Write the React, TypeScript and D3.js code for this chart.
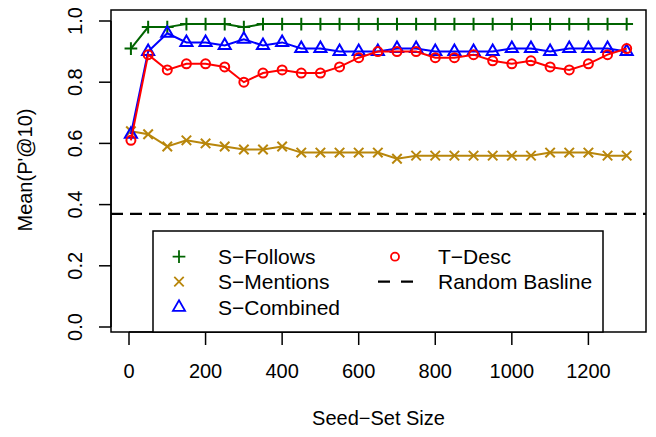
import React from "react";
import * as d3 from "d3";

const seedSizes = [5, 50, 100, 150, 200, 250, 300, 350, 400, 450, 500, 550, 600, 650, 700, 750, 800, 850, 900, 950, 1000, 1050, 1100, 1150, 1200, 1250, 1300];
const sFollows = [0.91, 0.98, 0.98, 0.99, 0.99, 0.99, 0.98, 0.99, 0.99, 0.99, 0.99, 0.99, 0.99, 0.99, 0.99, 0.99, 0.99, 0.99, 0.99, 0.99, 0.99, 0.99, 0.99, 0.99, 0.99, 0.99, 0.99];
const sMentions = [0.64, 0.63, 0.59, 0.61, 0.60, 0.59, 0.58, 0.58, 0.59, 0.57, 0.57, 0.57, 0.57, 0.57, 0.55, 0.56, 0.56, 0.56, 0.56, 0.56, 0.56, 0.56, 0.57, 0.57, 0.57, 0.56, 0.56];
const sCombined = [0.63, 0.90, 0.96, 0.93, 0.93, 0.92, 0.94, 0.92, 0.93, 0.91, 0.91, 0.90, 0.90, 0.90, 0.91, 0.91, 0.90, 0.90, 0.90, 0.90, 0.91, 0.91, 0.90, 0.91, 0.91, 0.91, 0.90];
const tDesc = [0.61, 0.89, 0.84, 0.86, 0.86, 0.85, 0.80, 0.83, 0.84, 0.83, 0.83, 0.85, 0.88, 0.90, 0.90, 0.90, 0.88, 0.88, 0.89, 0.87, 0.86, 0.87, 0.85, 0.84, 0.86, 0.89, 0.91];
const randomBaseline = 0.37;

const xTicks = [0, 200, 400, 600, 800, 1000, 1200];
const yTicks = [0, 0.2, 0.4, 0.6, 0.8, 1.0];

const seriesNames = ["S\u2212Follows", "S\u2212Mentions", "S\u2212Combined", "T\u2212Desc"];
const baselineName = "Random Basline";
const xTitle = "Seed\u2212Set Size";
const yTitle = "Mean(P'@10)";

const FONT = "'Liberation Sans', Arial, Helvetica, sans-serif";

type Shape = "plus" | "cross" | "triangle" | "circle";

function Marker({ shape, x, y, color, s = 4.5, sw = 2 }: { shape: Shape; x: number; y: number; color: string; s?: number; sw?: number }) {
  if (shape === "plus") {
    const h = s * 1.414;
    return <path d={`M${x - h},${y}H${x + h}M${x},${y - h}V${y + h}`} stroke={color} strokeWidth={sw} fill="none" />;
  }
  if (shape === "cross") {
    const h = s * 1.05;
    return <path d={`M${x - h},${y - h}L${x + h},${y + h}M${x - h},${y + h}L${x + h},${y - h}`} stroke={color} strokeWidth={sw} fill="none" />;
  }
  if (shape === "triangle") {
    const r = 1.5551 * s;
    const xc = 1.3468 * s;
    const yc = 0.7776 * s;
    return <path d={`M${x},${y - r}L${x + xc},${y + yc}L${x - xc},${y + yc}Z`} stroke={color} strokeWidth={sw} fill="none" />;
  }
  return <circle cx={x} cy={y} r={s} stroke={color} strokeWidth={sw} fill="none" />;
}

export default function App() {
  const x = d3.scaleLinear().domain([0, 1200]).range([129, 588.4]);
  const y = d3.scaleLinear().domain([0, 1]).range([327, 21]);
  const box = { left: 111, right: 646, top: 10, bottom: 332 };

  const series: { name: string; values: number[]; color: string; shape: Shape }[] = [
    { name: seriesNames[0], values: sFollows, color: "#006400", shape: "plus" },
    { name: seriesNames[1], values: sMentions, color: "#B8860B", shape: "cross" },
    { name: seriesNames[2], values: sCombined, color: "#0000FF", shape: "triangle" },
    { name: seriesNames[3], values: tDesc, color: "#FF0000", shape: "circle" },
  ];

  const line = d3
    .line<number>()
    .x((_, i) => x(seedSizes[i]))
    .y((v) => y(v));

  const legendCol1 = [series[0], series[1], series[2]];
  const rowY = [256.7, 281.7, 307.3];
  const LFS = 21;

  return (
    <svg width={656} height={437} style={{ position: "absolute", left: 0, top: 0, background: "#fff" }} fontFamily={FONT}>
      <rect x={0} y={0} width={656} height={437} fill="#fff" />
      <line x1={box.left} x2={box.right} y1={y(randomBaseline)} y2={y(randomBaseline)} stroke="#000" strokeWidth={2.2} strokeDasharray="12,7" />
      {series.map((s) => (
        <g key={s.name}>
          <path d={line(s.values) || ""} stroke={s.color} strokeWidth={2} fill="none" />
          {s.values.map((v, i) => (
            <Marker key={i} shape={s.shape} x={x(seedSizes[i])} y={y(v)} color={s.color} />
          ))}
        </g>
      ))}
      <rect x={box.left} y={box.top} width={box.right - box.left} height={box.bottom - box.top} fill="none" stroke="#000" strokeWidth={1.5} />
      <line x1={x(xTicks[0])} x2={x(xTicks[xTicks.length - 1])} y1={box.bottom} y2={box.bottom} stroke="#000" strokeWidth={1.5} />
      {xTicks.map((t) => (
        <g key={t}>
          <line x1={x(t)} x2={x(t)} y1={box.bottom} y2={box.bottom + 13} stroke="#000" strokeWidth={1.5} />
          <text x={x(t)} y={378} textAnchor="middle" fontSize={20} fill="#000">
            {t}
          </text>
        </g>
      ))}
      <line x1={box.left} x2={box.left} y1={y(0)} y2={y(1)} stroke="#000" strokeWidth={1.5} />
      {yTicks.map((t) => (
        <g key={t}>
          <line x1={box.left - 12} x2={box.left} y1={y(t)} y2={y(t)} stroke="#000" strokeWidth={1.5} />
          <text transform={`translate(82,${y(t)}) rotate(-90)`} textAnchor="middle" fontSize={20} fill="#000">
            {t.toFixed(1)}
          </text>
        </g>
      ))}
      <text x={378.5} y={425} textAnchor="middle" fontSize={20} fill="#000">
        {xTitle}
      </text>
      <text transform={`translate(32,170) rotate(-90)`} textAnchor="middle" fontSize={20} fill="#000">
        {yTitle}
      </text>
      <rect x={153} y={231} width={450} height={box.bottom - 231} fill="#fff" stroke="#000" strokeWidth={1.5} />
      {legendCol1.map((s, i) => (
        <g key={s.name}>
          <Marker shape={s.shape} x={179} y={rowY[i]} color={s.color} sw={1.8} />
          <text x={218} y={rowY[i]} dy="0.35em" fontSize={LFS} fill="#000">
            {s.name}
          </text>
        </g>
      ))}
      <Marker shape={series[3].shape} x={395} y={rowY[0]} color={series[3].color} sw={1.8} s={4} />
      <text x={438} y={rowY[0]} dy="0.35em" fontSize={LFS} fill="#000">
        {series[3].name}
      </text>
      <line x1={378} x2={413} y1={rowY[1]} y2={rowY[1]} stroke="#000" strokeWidth={2.2} strokeDasharray="12,11" />
      <text x={438} y={rowY[1]} dy="0.35em" fontSize={LFS} fill="#000">
        {baselineName}
      </text>
    </svg>
  );
}
